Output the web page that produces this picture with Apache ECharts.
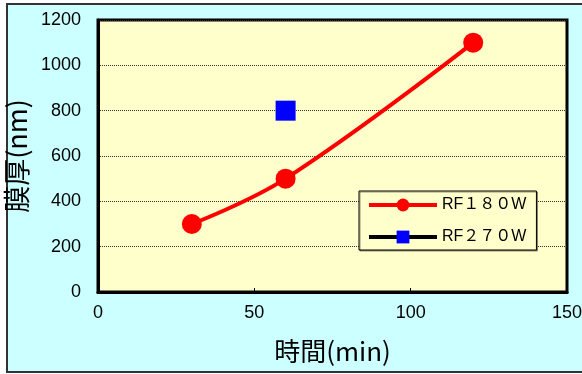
<!DOCTYPE html>
<html><head><meta charset="utf-8">
<script src="https://cdn.jsdelivr.net/npm/echarts@6/dist/echarts.min.js"></script>
<style>html,body{margin:0;padding:0;background:#fff}#c{width:582px;height:374px}</style>
</head><body><div id="c"></div>
<script>
const rf180 = [[30, 300], [60, 500], [120, 1100]];
const rf270 = [[60, 800]];
const seriesNames = ['RF１８０W', 'RF２７０W'];
const xTitle = '時間(min)';
const yTitle = '膜厚(nm)';

const chart = echarts.init(document.getElementById('c'));
const font = 'Liberation Sans, Arial, Noto Sans CJK JP, sans-serif';
const cjk = 'Noto Sans CJK JP, sans-serif';
chart.setOption({
  animation: false,
  backgroundColor: '#fff',
  graphic: [{
    type: 'rect', z: -10, silent: true,
    shape: { x: 7, y: 4, width: 580, height: 368 },
    style: { fill: '#CCFFFF' }
  }, {
    type: 'polyline', z: -9, silent: true,
    shape: { points: [[590, 4], [7, 4], [7, 372], [590, 372]] },
    style: { fill: null, stroke: '#333', lineWidth: 2 }
  }],
  grid: {
    left: 98, top: 20, right: 15, bottom: 82,
    outerBoundsMode: 'none',
    show: true, backgroundColor: '#FFFFCC', borderColor: '#000', borderWidth: 3
  },
  xAxis: {
    type: 'value', min: 0, max: 150, interval: 50,
    name: xTitle, nameLocation: 'middle', nameGap: 46,
    nameTextStyle: { fontSize: 26, color: '#000', fontFamily: cjk },
    axisLine: { show: true, lineStyle: { color: '#000', width: 3 } },
    axisTick: { show: true, inside: true, length: 4, lineStyle: { color: '#000' } },
    axisLabel: { fontSize: 18, color: '#000', margin: 12, fontFamily: font },
    splitLine: { show: false }
  },
  yAxis: {
    type: 'value', min: 0, max: 1200, interval: 200,
    name: yTitle, nameLocation: 'middle', nameGap: 55, nameRotate: 90,
    nameTextStyle: { fontSize: 27, color: '#000', fontFamily: cjk },
    axisLine: { show: true, lineStyle: { color: '#000', width: 3 } },
    axisTick: { show: false },
    axisLabel: { fontSize: 18, color: '#000', margin: 17, fontFamily: font, formatter: v => String(v) },
    splitLine: { show: true, lineStyle: { color: '#333', type: 'dotted', width: 1 } }
  },
  legend: {
    orient: 'vertical', left: 359, top: 191,
    backgroundColor: '#FFFFCC', borderColor: '#000', borderWidth: 1,
    shadowColor: 'rgba(0,0,0,0.4)', shadowOffsetX: 1, shadowOffsetY: 1,
    padding: [6, 10, 5, 8], itemGap: 16, itemWidth: 68, itemHeight: 16,
    lineStyle: { width: 4 },
    textStyle: { fontSize: 16, lineHeight: 16, color: '#000', fontFamily: font },
    data: seriesNames
  },
  series: [
    {
      name: seriesNames[0], type: 'line', data: rf180, smooth: 0.4,
      symbol: 'circle', symbolSize: 20,
      lineStyle: { color: '#FF0000', width: 4 },
      itemStyle: { color: '#FF0000' }
    },
    {
      name: seriesNames[1], type: 'line', data: rf270,
      symbol: 'rect', symbolSize: 20,
      lineStyle: { color: '#000', width: 4 },
      itemStyle: { color: '#0000FF' }
    }
  ]
});
</script></body></html>
